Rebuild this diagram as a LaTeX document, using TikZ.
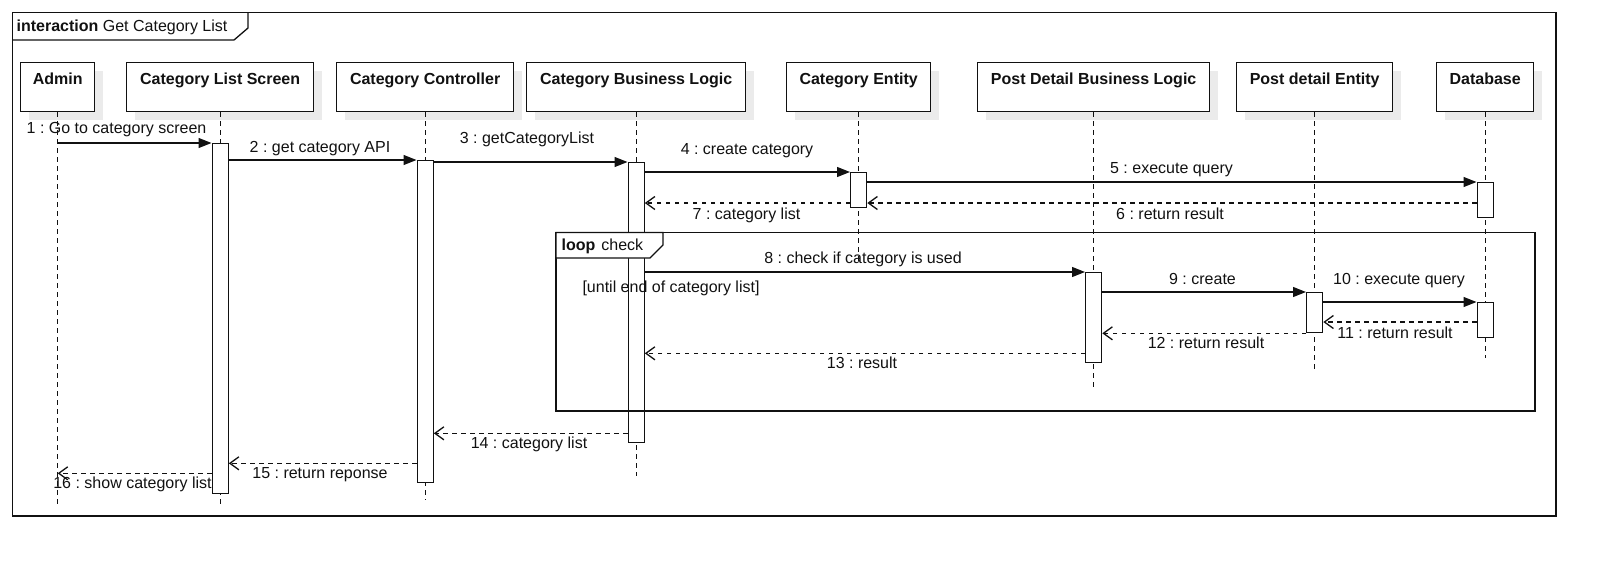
\documentclass[tikz,border=0pt]{standalone}
\usepackage{fontspec}
\setmainfont{Liberation Sans}
\usepackage{xcolor}
\usetikzlibrary{arrows.meta,positioning,calc,shadows}
\definecolor{ink}{HTML}{111111}
\definecolor{shade}{HTML}{EBEBEB}
\frenchspacing

\begin{document}
\begin{tikzpicture}[x=1pt,y=-1pt,line width=1.3pt,draw=ink,
  every node/.style={font=\fontsize{16}{19}\selectfont,text=ink},
  part/.style={draw,fill=white,anchor=north west,inner sep=0pt,minimum height=49pt,
    text height=12pt,text depth=18pt,font=\fontsize{16}{19}\selectfont\bfseries,
    drop shadow={shadow xshift=8pt,shadow yshift=-8pt,fill=shade,opacity=1}},
  act/.style={draw,fill=white,anchor=north,minimum width=16pt,inner sep=0pt},
  life/.style={dash pattern=on 4.5pt off 4.5pt},
  call/.style={-{Triangle[length=13pt,width=10pt]}},
  reply/.style={dash pattern=on 4.5pt off 4.5pt,-{Straight Barb[length=9pt,width=13pt]}},
  msg/.style={inner sep=0pt,text height=12pt,text depth=3pt}]
\useasboundingbox (0,0) rectangle (1606,566);

% frame
\draw (12.5,12.5) rectangle (1556,516);
\draw (248,12.5) -- (248,28) -- (234,40) -- (12.5,40);
\node[msg,anchor=west] (title) at (16,27) {\textbf{interaction} Get Category List};

% participants
\node[part,minimum width=74pt] (admin) at (20,62) {Admin};
\node[part,minimum width=187pt] (screen) at (126,62) {Category List Screen};
\node[part,minimum width=177pt] (ctrl) at (336,62) {Category Controller};
\node[part,minimum width=219pt] (catbl) at (526,62) {Category Business Logic};
\node[part,minimum width=144pt] (catent) at (786,62) {Category Entity};
\node[part,minimum width=232pt] (postbl) at (977,62) {Post Detail Business Logic};
\node[part,minimum width=156pt] (postent) at (1236,62) {Post detail Entity};
\node[part,minimum width=97pt] (db) at (1436,62) {Database};

\draw[life] (admin.south) -- ++(0,396);
\draw[life] (screen.south) -- ++(0,396);
\draw[life] (ctrl.south) -- ++(0,388);
\draw[life] (catbl.south) -- ++(0,364);
\draw[life] (catent.south) -- ++(0,151);
\draw[life] (postbl.south) -- ++(0,275);
\draw[life] (postent.south) -- ++(0,259);
\draw[life] (db.south) -- ++(0,246);

% activations
\node[act,minimum height=350pt] (aScreen) at (screen.south |- 0,143) {};
\node[act,minimum height=322pt] (aCtrl) at (ctrl.south |- 0,160) {};
\node[act,minimum height=280pt] (aCatBL) at (catbl.south |- 0,162) {};
\node[act,minimum height=35pt] (aCatEnt) at (catent.south |- 0,172) {};
\node[act,minimum height=35pt] (aDb) at (db.south |- 0,182) {};
\node[act,minimum height=90pt] (aPostBL) at (postbl.south |- 0,272) {};
\node[act,minimum height=40pt] (aPostEnt) at (postent.south |- 0,292) {};
\node[act,minimum height=35pt] (aDb2) at (db.south |- 0,302) {};

% loop fragment
\draw (556,232.5) rectangle (1535,411);
\draw[fill=white] (556,232.5) -- (663,232.5) -- (663,245) -- (650,258) -- (556,258) -- cycle;
\node[msg,anchor=west] (looptag) at (561,246) {\textbf{loop}\hspace{6pt}check};
\node[msg] (guard) at (671,288) {[until end of category list]};

% messages
\draw[call] (admin.south |- aScreen.north) -- (aScreen.north west);
\draw[call] (aScreen.east |- aCtrl.north) -- (aCtrl.north west);
\draw[call] (aCtrl.east |- aCatBL.north) -- (aCatBL.north west);
\draw[call] (aCatBL.east |- aCatEnt.north) -- (aCatEnt.north west);
\draw[call] (aCatEnt.east |- aDb.north) -- (aDb.north west);
\draw[reply] ($(aDb.north west)+(0,21)$) coordinate (r6) -- (aCatEnt.east |- r6);
\draw[reply] (aCatEnt.west |- r6) -- (aCatBL.east |- r6);
\draw[call] (aCatBL.east |- aPostBL.north) -- (aPostBL.north west);
\draw[call] (aPostBL.east |- aPostEnt.north) -- (aPostEnt.north west);
\draw[call] (aPostEnt.east |- aDb2.north) -- (aDb2.north west);
\draw[reply] ($(aDb2.north west)+(0,20)$) coordinate (r11) -- (aPostEnt.east |- r11);
\draw[reply] (aPostEnt.south west) -- (aPostBL.east |- aPostEnt.south);
\draw[reply] ($(aPostBL.south west)+(0,-10)$) coordinate (r13) -- (aCatBL.east |- r13);
\draw[reply] ($(aCatBL.south west)+(0,-10)$) coordinate (r14) -- (aCtrl.east |- r14);
\draw[reply] ($(aCtrl.south west)+(0,-20)$) coordinate (r15) -- (aScreen.east |- r15);
\draw[reply] ($(aScreen.south west)+(0,-21)$) coordinate (r16) -- (admin.south |- r16);

\node[msg] (t1) at (116.5,129) {1 : Go to category screen};
\node[msg] (t2) at (320,148) {2 : get category API};
\node[msg] (t3) at (527,139) {3 : getCategoryList};
\node[msg] (t4) at (747,150) {4 : create category};
\node[msg] (t5) at (1171.5,169) {5 : execute query};
\node[msg] (t6) at (1170,215) {6 : return result};
\node[msg] (t7) at (746.5,215) {7 : category list};
\node[msg] (t8) at (863,259) {8 : check if category is used};
\node[msg] (t9) at (1202.5,280) {9 : create};
\node[msg] (t10) at (1399,280) {10 : execute query};
\node[msg] (t11) at (1395,334) {11 : return result};
\node[msg] (t12) at (1206,344) {12 : return result};
\node[msg] (t13) at (862,364) {13 : result};
\node[msg] (t14) at (529,444) {14 : category list};
\node[msg] (t15) at (320,474) {15 : return reponse};
\node[msg] (t16) at (132.5,484) {16 : show category list};
\end{tikzpicture}
\end{document}
